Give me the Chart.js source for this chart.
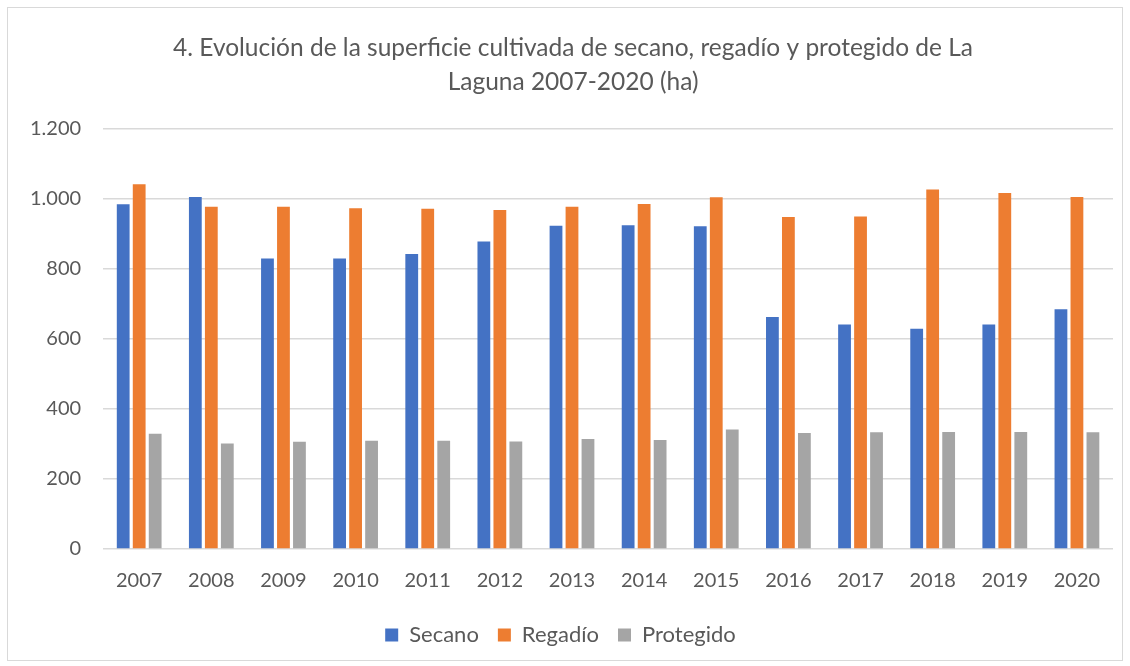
<!DOCTYPE html>
<html>
<head>
<meta charset="utf-8">
<script src="https://cdn.jsdelivr.net/npm/chart.js@4/dist/chart.umd.min.js"></script>
<style>
  html, body { margin: 0; padding: 0; background: #fff; }
  #frame { position: absolute; left: 7px; top: 7px; width: 1114px; height: 652px; border: 1px solid #d9d9d9; }
  #wrap { position: absolute; left: 0; top: 0; width: 1130px; height: 666px; }
</style>
</head>
<body>
<div id="frame"></div>
<div id="wrap"><canvas id="chart" width="1130" height="666"></canvas></div>
<script>
const years = ["2007", "2008", "2009", "2010", "2011", "2012", "2013", "2014", "2015", "2016", "2017", "2018", "2019", "2020"];
const secano = [984, 1005, 829, 829, 842, 878, 923, 924, 921, 662, 641, 629, 641, 684];
const regadio = [1041, 977, 977, 973, 971, 968, 977, 985, 1004, 948, 949, 1026, 1016, 1005];
const protegido = [329, 301, 306, 309, 309, 307, 314, 311, 341, 331, 333, 334, 334, 333];
const titleLines = ["4. Evolución de la superficie cultivada de secano, regadío y protegido de La", "Laguna 2007-2020 (ha)"];

const font = "Lato, 'Open Sans', sans-serif";
const textColor = "#595959";

// the title sits a bit right of centre in the original, nudge it with leading spaces
const titleShift = "    ";

const ctx = document.getElementById("chart").getContext("2d");
new Chart(ctx, {
  type: "bar",
  data: {
    labels: years,
    datasets: [
      { label: "Secano", data: secano, backgroundColor: "#4472c4" },
      { label: "Regadío", data: regadio, backgroundColor: "#ed7d31" },
      { label: "Protegido", data: protegido, backgroundColor: "#a5a5a5" },
    ],
  },
  options: {
    responsive: false,
    animation: false,
    devicePixelRatio: 1,
    layout: { padding: { left: 8, right: 17, top: 31, bottom: 10 } },
    datasets: { bar: { categoryPercentage: 0.665, barPercentage: 0.8 } },
    plugins: {
      title: {
        display: true,
        text: titleLines.map((t) => titleShift + t),
        color: textColor,
        font: { family: font, size: 24.5, weight: "normal", lineHeight: 1.4 },
        padding: { top: 0, bottom: 29 },
      },
      legend: {
        position: "bottom",
        labels: {
          color: textColor,
          font: { family: font, size: 22 },
          boxWidth: 13,
          boxHeight: 13,
          padding: 19,
        },
      },
      tooltip: { enabled: false },
    },
    scales: {
      x: {
        grid: { display: false },
        border: { display: false },
        ticks: { color: textColor, font: { family: font, size: 20 }, padding: 12, maxRotation: 0, autoSkip: false },
      },
      y: {
        min: 0,
        max: 1200,
        ticks: {
          stepSize: 200,
          color: textColor,
          font: { family: font, size: 20 },
          padding: 22,
          callback: (v) => v.toLocaleString("de-DE"),
        },
        grid: { color: "#d9d9d9", lineWidth: 1.5, drawTicks: false },
        border: { display: false },
      },
    },
  },
});
</script>
</body>
</html>
